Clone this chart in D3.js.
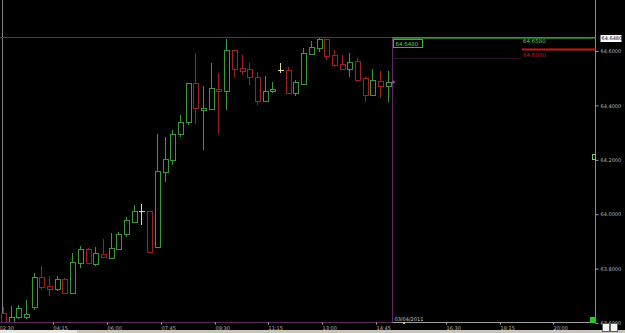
<!DOCTYPE html>
<html>
<head>
<meta charset="utf-8">
<script src="https://cdn.jsdelivr.net/npm/d3@7"></script>
<style>
  body { margin: 0; background: #000; }
  svg { display: block; }
  text { font-family: "DejaVu Sans", sans-serif; }
</style>
</head>
<body>
<svg id="chart" width="625" height="333"></svg>
<script>
// 15 minute bars, 02:30 -> 15:00
const opens  = [63.638,63.604,63.622,63.622,63.659,63.769,63.736,63.725,63.762,63.710,63.821,63.872,63.817,63.854,63.839,63.872,63.927,63.971,64.012,64.012,63.880,64.155,64.199,64.295,64.339,64.482,64.383,64.387,64.460,64.453,64.604,64.538,64.534,64.504,64.416,64.453,64.530,64.530,64.446,64.479,64.589,64.611,64.644,64.585,64.552,64.534,64.563,64.501,64.438,64.490,64.471];
const highs  = [63.659,63.663,63.666,63.685,63.784,63.810,63.773,63.773,63.766,63.857,63.883,63.876,63.880,63.909,63.931,63.935,63.990,64.034,64.038,64.012,64.295,64.284,64.310,64.365,64.482,64.593,64.471,64.556,64.519,64.644,64.604,64.585,64.556,64.523,64.508,64.486,64.556,64.541,64.493,64.611,64.637,64.648,64.644,64.604,64.585,64.593,64.574,64.504,64.534,64.526,64.526];
const lows   = [63.600,63.600,63.615,63.615,63.648,63.721,63.699,63.718,63.707,63.707,63.802,63.817,63.810,63.843,63.835,63.868,63.916,63.968,63.960,63.861,63.880,64.118,64.181,64.284,64.328,64.332,64.236,64.383,64.295,64.383,64.504,64.512,64.475,64.401,64.416,64.446,64.519,64.442,64.435,64.479,64.585,64.596,64.567,64.541,64.530,64.504,64.493,64.413,64.438,64.427,64.413];
const closes = [63.604,63.623,63.655,63.633,63.769,63.732,63.725,63.762,63.710,63.824,63.872,63.821,63.857,63.843,63.876,63.927,63.979,64.012,64.012,63.861,64.159,64.203,64.295,64.339,64.482,64.390,64.390,64.464,64.453,64.604,64.534,64.526,64.504,64.416,64.453,64.460,64.530,64.446,64.486,64.593,64.615,64.644,64.582,64.549,64.534,64.560,64.493,64.438,64.493,64.471,64.486];

const timeLabels = ["02:30","04:15","06:00","07:45","09:30","11:15","13:00","14:45","16:30","18:15","20:00"];
const timeSlots  = [0,7,14,21,28,35,42,49,58,65,72];   // session gap before 16:30
const priceTicks = [63.6,63.8,64.0,64.2,64.4,64.6];
const lastPrice = 64.648, levelHigh = 64.658, levelLow = 64.608;
const dateLabel = "03/04/2011";

const svg = d3.select("#chart");
const x = d3.scaleLinear().domain([0, 72]).range([-1, 553.4]);
const y = d3.scaleLinear().domain([63.6, 64.6]).range([323, 51]);
const axisX = 595.5, bottomY = 322.5, crossX = Math.round(x(51)) + 0.5;
const purple = "#5e2a5e", green = "#3a9a3a", red = "#a02020";

svg.append("rect").attr("width", 625).attr("height", 333).attr("fill", "#000");

// frame lines
svg.append("line").attr("x1", 2.5).attr("x2", 2.5).attr("y1", 0).attr("y2", bottomY).attr("stroke", "#808080");
svg.append("line").attr("x1", axisX).attr("x2", axisX).attr("y1", 0).attr("y2", bottomY).attr("stroke", "#8a8a8a");

// crosshair
const cy = Math.round(y(lastPrice)) + 0.5;
svg.append("line").attr("x1", 0).attr("x2", axisX).attr("y1", cy - 1).attr("y2", cy - 1).attr("stroke", purple);
svg.append("line").attr("x1", crossX).attr("x2", crossX).attr("y1", cy - 1).attr("y2", bottomY).attr("stroke", purple);
svg.append("line").attr("x1", crossX).attr("x2", 522).attr("y1", 58.5).attr("y2", 58.5).attr("stroke", "#2a122a");

// candles
const bars = d3.range(opens.length).map(i => ({i, o: opens[i], h: highs[i], l: lows[i], c: closes[i]}));
const col = d => d.c > d.o ? green : d.c < d.o ? red : "#d8d8a0";
const g = svg.append("g").attr("shape-rendering", "crispEdges");
const cx = d => Math.round(x(d.i + 0.5)) + 0.5;
g.selectAll("line.wick").data(bars).join("line")
  .attr("x1", cx).attr("x2", cx)
  .attr("y1", d => y(d.h)).attr("y2", d => Math.min(y(d.l), bottomY - 0.5))
  .attr("stroke", col);
g.selectAll("rect.body").data(bars.filter(d => d.o !== d.c)).join("rect")
  .attr("x", d => cx(d) - 2.5).attr("width", 5)
  .attr("y", d => Math.round(y(Math.max(d.o, d.c))) + 0.5)
  .attr("height", d => Math.max(1, Math.round(Math.min(y(Math.min(d.o, d.c)), bottomY - 1) - y(Math.max(d.o, d.c)))))
  .attr("fill", "#000").attr("stroke", col);
g.selectAll("line.doji").data(bars.filter(d => d.o === d.c)).join("line")
  .attr("x1", d => cx(d) - 3).attr("x2", d => cx(d) + 3)
  .attr("y1", d => Math.round(y(d.o)) + 0.5).attr("y2", d => Math.round(y(d.o)) + 0.5)
  .attr("stroke", col);

// last price marker
svg.append("path").attr("d", `M${crossX},${y(closes[50]) - 2}l3,2l-3,2z`).attr("fill", "#c040c0");

// price level lines
svg.append("line").attr("x1", crossX).attr("x2", axisX).attr("y1", cy - 0.5).attr("y2", cy - 0.5).attr("stroke", "#4cd44c");
const ry = Math.round(y(levelLow)) + 0.5;
svg.append("line").attr("x1", 522).attr("x2", axisX).attr("y1", ry).attr("y2", ry).attr("stroke", "#c81818").attr("stroke-width", 2);
svg.append("rect").attr("x", crossX + 1).attr("y", cy + 1).attr("width", 29).attr("height", 8)
  .attr("fill", "none").attr("stroke", "#3cb43c");
svg.append("text").attr("x", crossX + 3).attr("y", cy + 7.5).attr("font-size", 5.5).attr("fill", "#4cd44c").text(lastPrice.toFixed(4));
svg.append("text").attr("x", 523).attr("y", cy + 4).attr("font-size", 5.5).attr("fill", "#4cd44c").text(levelHigh.toFixed(4));
svg.append("text").attr("x", 523).attr("y", ry + 7).attr("font-size", 5.5).attr("fill", "#c81818").text(levelLow.toFixed(4));

// bottom axis
svg.append("line").attr("x1", 0).attr("x2", crossX).attr("y1", bottomY).attr("y2", bottomY).attr("stroke", purple);
svg.append("line").attr("x1", crossX).attr("x2", axisX).attr("y1", bottomY).attr("y2", bottomY).attr("stroke", "#a0a0a0");
const xt = svg.append("g");
timeSlots.forEach((s, i) => {
  const px = Math.round(x(s)) + 0.5;
  xt.append("line").attr("x1", px).attr("x2", px).attr("y1", bottomY).attr("y2", bottomY + 2).attr("stroke", "#b0b0b0");
  xt.append("text").attr("x", px).attr("y", 329.5).attr("font-size", 5).attr("fill", "#b8b8b8").text(timeLabels[i]);
});
svg.append("text").attr("x", crossX + 2).attr("y", 320.5).attr("font-size", 5).attr("fill", "#c8c8c8").text(dateLabel);
svg.append("rect").attr("x", 403).attr("y", 322).attr("width", 2).attr("height", 2).attr("fill", "#e0d040");

// right price axis
const yAxis = d3.axisRight(y).tickValues(priceTicks).tickFormat(d3.format(".4f")).tickSize(3).tickPadding(2);
const ya = svg.append("g").attr("transform", `translate(${axisX},0)`).call(yAxis);
ya.select(".domain").remove();
ya.selectAll("line").attr("stroke", "#a0a0a0");
ya.selectAll("text").attr("fill", "#b8b8b8").attr("font-size", 5).attr("font-family", "DejaVu Sans, sans-serif");
svg.append("rect").attr("x", axisX + 5).attr("y", cy - 3.5).attr("width", 21).attr("height", 7).attr("fill", "#fff");
svg.append("text").attr("x", axisX + 6).attr("y", cy + 1.8).attr("font-size", 5).attr("fill", "#000").text(lastPrice.toFixed(4));

// small markers on the price axis
svg.append("rect").attr("x", 590).attr("y", 317).attr("width", 6).attr("height", 6).attr("fill", "#22cc22");
svg.append("rect").attr("x", 592.5).attr("y", 154.5).attr("width", 3).attr("height", 5).attr("fill", "none").attr("stroke", "#7ac87a");

// bottom strip and buttons
svg.append("rect").attr("x", 0).attr("y", 330).attr("width", 625).attr("height", 3).attr("fill", "#c8c4bc");
svg.append("rect").attr("x", 0).attr("y", 330).attr("width", 77).attr("height", 3).attr("fill", "#e8e6e0");
[602, 610].forEach(bx => {
  svg.append("rect").attr("x", bx + 0.5).attr("y", 323.5).attr("width", 7).attr("height", 8).attr("fill", "#f4f4f4").attr("stroke", "#606060");
});
</script>
</body>
</html>
